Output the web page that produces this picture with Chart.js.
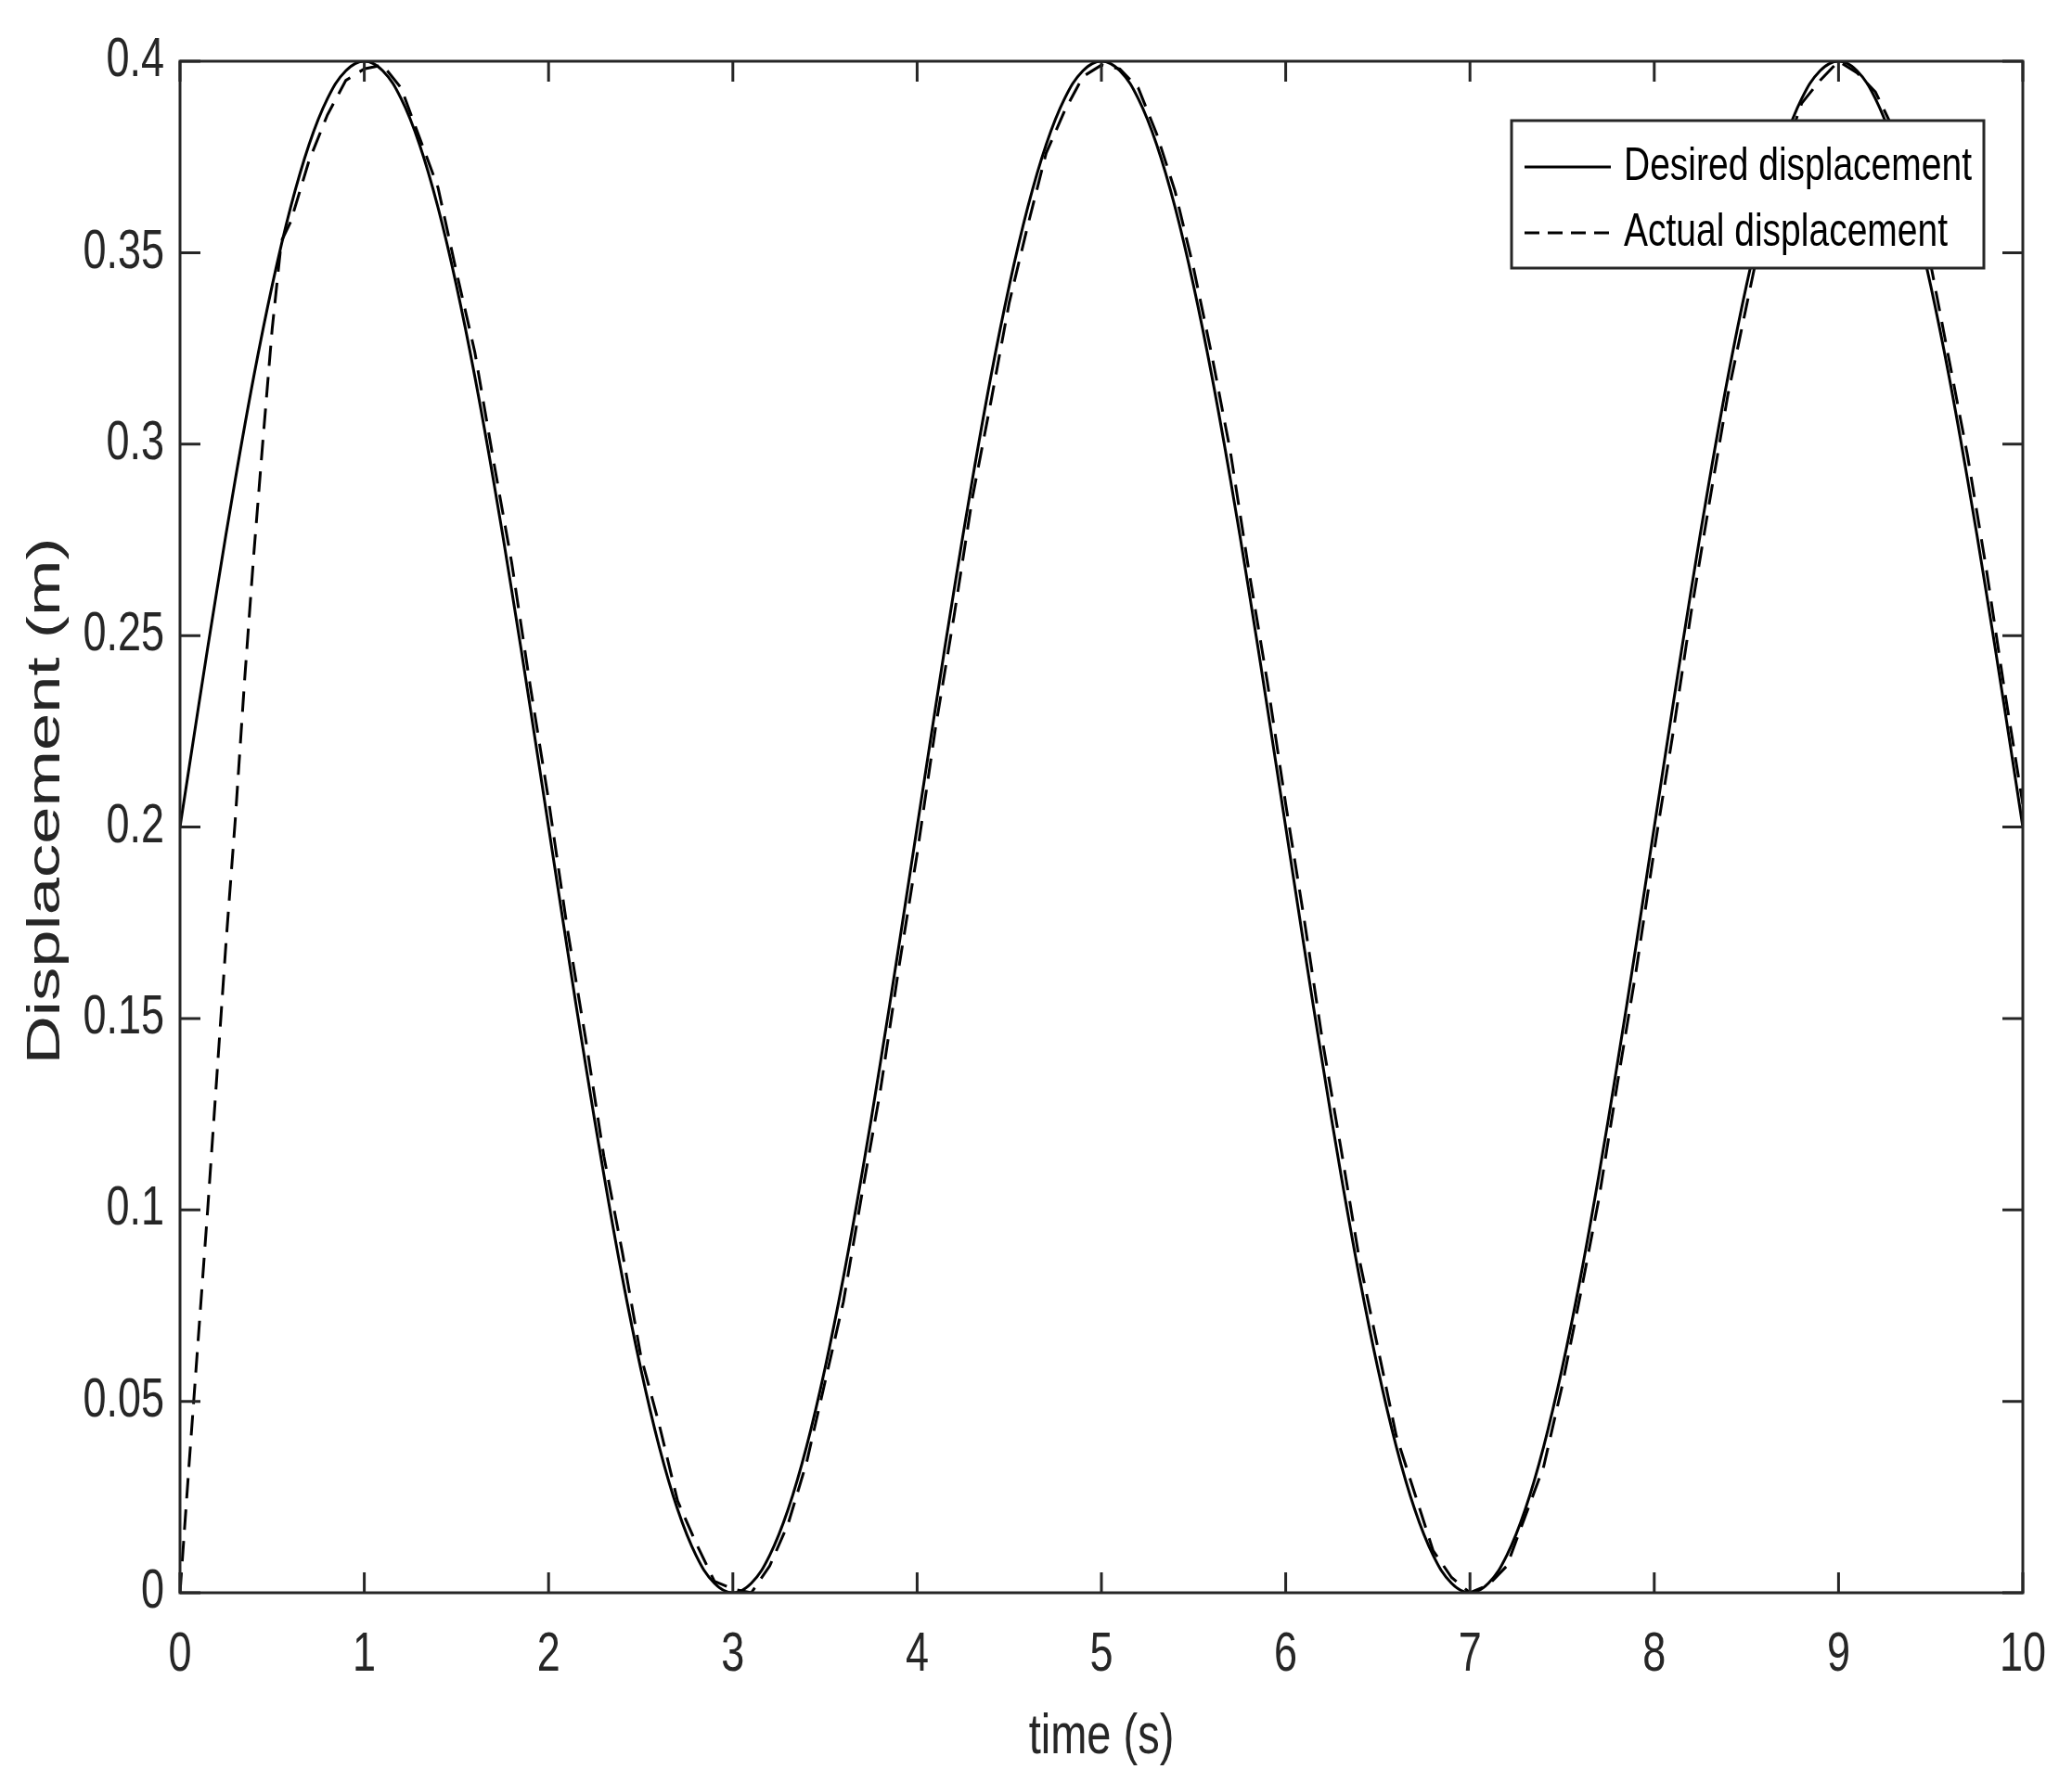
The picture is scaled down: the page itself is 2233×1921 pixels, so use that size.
<!DOCTYPE html>
<html><head><meta charset="utf-8">
<script src="https://cdn.jsdelivr.net/npm/chart.js@4"></script>
<style>html,body{margin:0;padding:0;background:#fff;} canvas{display:block;}</style>
</head><body>
<canvas id="c" width="2233" height="1921" style="width:2233px;height:1921px"></canvas>
<script>
// ---------- data ----------
const seriesNames = ['Desired displacement', 'Actual displacement'];

const desiredTime = [
  0,0.1,0.2,0.3,0.4,0.5,0.6,0.7,0.8,0.9,
  1,1.1,1.2,1.3,1.4,1.5,1.6,1.7,1.8,1.9,
  2,2.1,2.2,2.3,2.4,2.5,2.6,2.7,2.8,2.9,
  3,3.1,3.2,3.3,3.4,3.5,3.6,3.7,3.8,3.9,
  4,4.1,4.2,4.3,4.4,4.5,4.6,4.7,4.8,4.9,
  5,5.1,5.2,5.3,5.4,5.5,5.6,5.7,5.8,5.9,
  6,6.1,6.2,6.3,6.4,6.5,6.6,6.7,6.8,6.9,
  7,7.1,7.2,7.3,7.4,7.5,7.6,7.7,7.8,7.9,
  8,8.1,8.2,8.3,8.4,8.5,8.6,8.7,8.8,8.9,
  9,9.1,9.2,9.3,9.4,9.5,9.6,9.7,9.8,9.9,
  10
];
const desiredDisp = [
  0.2000,0.2313,0.2618,0.2908,0.3176,0.3414,0.3618,0.3782,0.3902,0.3975,
  0.4000,0.3975,0.3902,0.3782,0.3618,0.3414,0.3176,0.2908,0.2618,0.2313,
  0.2000,0.1687,0.1382,0.1092,0.0824,0.0586,0.0382,0.0218,0.0098,0.0025,
  0.0000,0.0025,0.0098,0.0218,0.0382,0.0586,0.0824,0.1092,0.1382,0.1687,
  0.2000,0.2313,0.2618,0.2908,0.3176,0.3414,0.3618,0.3782,0.3902,0.3975,
  0.4000,0.3975,0.3902,0.3782,0.3618,0.3414,0.3176,0.2908,0.2618,0.2313,
  0.2000,0.1687,0.1382,0.1092,0.0824,0.0586,0.0382,0.0218,0.0098,0.0025,
  0.0000,0.0025,0.0098,0.0218,0.0382,0.0586,0.0824,0.1092,0.1382,0.1687,
  0.2000,0.2313,0.2618,0.2908,0.3176,0.3414,0.3618,0.3782,0.3902,0.3975,
  0.4000,0.3975,0.3902,0.3782,0.3618,0.3414,0.3176,0.2908,0.2618,0.2313,
  0.2000
];

const actualTime = [
  0,0.05,0.1,0.15,0.2,0.25,0.3,0.35,0.4,0.45,0.5,0.55,0.6,0.7,0.8,0.9,
  1,1.1,1.2,1.3,1.4,1.5,1.6,1.7,1.8,1.9,
  2,2.1,2.2,2.3,2.4,2.5,2.6,2.7,2.8,2.9,
  3,3.1,3.2,3.3,3.4,3.5,3.6,3.7,3.8,3.9,
  4,4.1,4.2,4.3,4.4,4.5,4.6,4.7,4.8,4.9,
  5,5.1,5.2,5.3,5.4,5.5,5.6,5.7,5.8,5.9,
  6,6.1,6.2,6.3,6.4,6.5,6.6,6.7,6.8,6.9,
  7,7.1,7.2,7.3,7.4,7.5,7.6,7.7,7.8,7.9,
  8,8.1,8.2,8.3,8.4,8.5,8.6,8.7,8.8,8.9,
  9,9.1,9.2,9.3,9.4,9.5,9.6,9.7,9.8,9.9,
  10
];
const actualDisp = [
  0.000,0.034,0.067,0.100,0.135,0.170,0.202,0.238,0.271,0.301,0.330,0.353,0.358,0.374,0.386,0.395,
  0.398,0.399,0.393,0.380,0.367,0.345,0.324,0.296,0.269,0.237,
  0.207,0.174,0.145,0.114,0.089,0.062,0.044,0.024,0.013,0.003,
  0.001,0.000,0.007,0.018,0.034,0.055,0.076,0.104,0.131,0.163,
  0.193,0.226,0.255,0.286,0.311,0.337,0.357,0.376,0.387,0.396,
  0.399,0.398,0.393,0.381,0.366,0.346,0.323,0.298,0.267,0.238,
  0.206,0.176,0.144,0.116,0.087,0.064,0.041,0.026,0.011,0.004,
  0.000,0.002,0.007,0.020,0.033,0.054,0.078,0.103,0.133,0.162,
  0.194,0.224,0.256,0.285,0.313,0.336,0.359,0.375,0.389,0.395,
  0.400,0.397,0.392,0.382,0.365,0.347,0.322,0.297,0.268,0.236,
  0.206
];

const xTickValues = [0,1,2,3,4,5,6,7,8,9,10];
const xTickLabels = ['0','1','2','3','4','5','6','7','8','9','10'];
const yTickValues = [0,0.05,0.1,0.15,0.2,0.25,0.3,0.35,0.4];
const yTickLabels = ['0','0.05','0.1','0.15','0.2','0.25','0.3','0.35','0.4'];

const xTitle = 'time (s)';
const yTitle = 'Displacement (m)';

// ---------- styling ----------
const FONT = "'Liberation Sans', Arial, Helvetica, sans-serif";
const AXIS_COLOR = '#262626';
const TEXT_STRETCH_Y = 1.3;      // reference text is drawn tall and narrow
const ROTATED_STRETCH_Y = 1.45;  // y-axis title, stretched along its length
const Y_TITLE_SHIFT = -28;

const canvas = document.getElementById('c');
const ctx2d = canvas.getContext('2d');
const nativeFillText = ctx2d.fillText;
ctx2d.fillText = function (text, x, y, maxWidth) {
  const m = this.getTransform();
  const p = m.transformPoint(new DOMPoint(x, y));
  const rotated = Math.abs(m.b) > 1e-6;
  const shift = rotated ? Y_TITLE_SHIFT : 0;
  const sy = rotated ? ROTATED_STRETCH_Y : TEXT_STRETCH_Y;
  this.save();
  const t = new DOMMatrix()
    .translate(p.x, p.y + shift)
    .scale(1, sy)
    .translate(-p.x, -p.y)
    .multiply(m);
  this.setTransform(t);
  if (maxWidth === undefined) nativeFillText.call(this, text, x, y);
  else nativeFillText.call(this, text, x, y, maxWidth);
  this.restore();
};

const framePlugin = {
  id: 'frame',
  afterDraw(chart) {
    const ctx = chart.ctx;
    const a = chart.chartArea;
    const xs = chart.scales.x, ys = chart.scales.y;
    const tl = 22;
    ctx.save();
    ctx.strokeStyle = AXIS_COLOR;
    ctx.lineWidth = 3;
    ctx.lineCap = 'butt';
    ctx.beginPath();
    xTickValues.forEach(v => {
      const px = xs.getPixelForValue(v);
      ctx.moveTo(px, a.bottom); ctx.lineTo(px, a.bottom - tl);
      ctx.moveTo(px, a.top); ctx.lineTo(px, a.top + tl);
    });
    yTickValues.forEach(v => {
      const py = ys.getPixelForValue(v);
      ctx.moveTo(a.left, py); ctx.lineTo(a.left + tl, py);
      ctx.moveTo(a.right, py); ctx.lineTo(a.right - tl, py);
    });
    ctx.stroke();
    ctx.strokeRect(a.left, a.top, a.right - a.left, a.bottom - a.top);

    // legend
    const L = 1629, T = 130, W = 509, H = 159;
    ctx.fillStyle = '#ffffff';
    ctx.fillRect(L, T, W, H);
    ctx.strokeStyle = AXIS_COLOR;
    ctx.lineWidth = 3;
    ctx.strokeRect(L, T, W, H);
    const rows = [180, 251];
    const dashes = [[], [16, 9]];
    ctx.font = '39px ' + FONT;
    ctx.textBaseline = 'middle';
    ctx.textAlign = 'left';
    rows.forEach((y, i) => {
      ctx.strokeStyle = '#000';
      ctx.lineWidth = 3;
      ctx.setLineDash(dashes[i]);
      ctx.beginPath();
      ctx.moveTo(1643, y); ctx.lineTo(1736, y);
      ctx.stroke();
      ctx.setLineDash([]);
      ctx.fillStyle = '#000';
      ctx.fillText(seriesNames[i], 1750, y);
    });
    ctx.restore();
  }
};

const toPts = (xs, ys) => xs.map((x, i) => ({x, y: ys[i]}));

new Chart(ctx2d, {
  type: 'line',
  data: {
    datasets: [
      {
        label: seriesNames[0],
        data: toPts(desiredTime, desiredDisp),
        borderColor: '#000',
        borderWidth: 3,
        pointRadius: 0,
        tension: 0.4,
        fill: false
      },
      {
        label: seriesNames[1],
        data: toPts(actualTime, actualDisp),
        borderColor: '#000',
        borderWidth: 3,
        borderDash: [22, 12],
        pointRadius: 0,
        tension: 0,
        fill: false
      }
    ]
  },
  options: {
    responsive: false,
    devicePixelRatio: 1,
    animation: false,
    events: [],
    layout: { padding: { top: 66, right: 53, left: 0, bottom: 0 } },
    plugins: { legend: { display: false }, tooltip: { enabled: false } },
    scales: {
      x: {
        type: 'linear',
        min: 0, max: 10,
        afterBuildTicks: s => { s.ticks = xTickValues.map(v => ({value: v})); },
        afterFit: s => { s.height = 204; s.paddingLeft = 0; s.paddingRight = 0; },
        grid: { display: false, drawTicks: false },
        border: { display: false },
        ticks: {
          padding: 45,
          color: AXIS_COLOR,
          font: { family: FONT, size: 45, lineHeight: 1 },
          maxRotation: 0,
          autoSkip: false,
          callback: (v, i) => xTickLabels[i]
        },
        title: {
          display: true,
          text: xTitle,
          color: AXIS_COLOR,
          font: { family: FONT, size: 47, lineHeight: 1 },
          padding: { top: 0, bottom: 24 }
        }
      },
      y: {
        type: 'linear',
        min: 0, max: 0.4,
        afterBuildTicks: s => { s.ticks = yTickValues.map(v => ({value: v})); },
        afterFit: s => { s.width = 194; s.paddingTop = 0; s.paddingBottom = 0; },
        grid: { display: false, drawTicks: false },
        border: { display: false },
        ticks: {
          padding: 17,
          color: AXIS_COLOR,
          font: { family: FONT, size: 45, lineHeight: 1 },
          autoSkip: false,
          callback: (v, i) => yTickLabels[i]
        },
        title: {
          display: true,
          text: yTitle,
          color: AXIS_COLOR,
          font: { family: FONT, size: 50, lineHeight: 1 },
          padding: { top: 25, bottom: 0 }
        }
      }
    }
  },
  plugins: [framePlugin]
});
</script>
</body></html>
